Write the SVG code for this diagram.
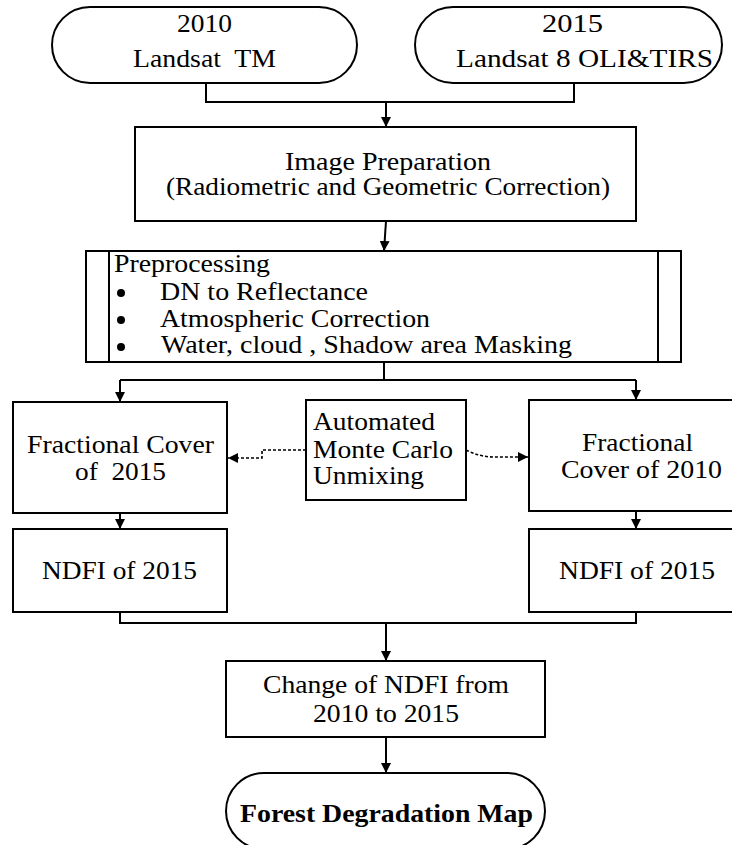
<svg xmlns="http://www.w3.org/2000/svg" width="732" height="845" viewBox="0 0 732 845">
<style>
.box{fill:#fff;stroke:#000;stroke-width:2}
.ln{fill:none;stroke:#000;stroke-width:2}
.dot{fill:none;stroke:#000;stroke-width:1.6;stroke-dasharray:3 2}
text{font-family:"Liberation Serif","Times New Roman",serif;font-size:25px;fill:#000;white-space:pre}
.b{font-weight:bold}
</style>
<defs>
<marker id="ah" viewBox="0 0 10 10" refX="10" refY="5" markerWidth="10" markerHeight="10" markerUnits="userSpaceOnUse" orient="auto">
<path d="M0,0 L10,5 L0,10 Z" fill="#000"/>
</marker>
<marker id="ahs" viewBox="0 0 10 10" refX="10" refY="5" markerWidth="10" markerHeight="10" markerUnits="userSpaceOnUse" orient="auto">
<path d="M0,0 L10,5 L0,10 Z" fill="#000"/>
</marker>
</defs>
<rect width="732" height="845" fill="#fff"/>
<g id="connectors">
<path class="ln" d="M206,83 V102 H574 V83"/>
<path class="ln" d="M386,102 V127" marker-end="url(#ah)"/>
<path class="ln" d="M386,221 L384,251" marker-end="url(#ah)"/>
<path class="ln" d="M384,362 V380 M120,380 H636"/>
<path class="ln" d="M120,380 V402" marker-end="url(#ah)"/>
<path class="ln" d="M636,380 V400" marker-end="url(#ah)"/>
<path class="dot" d="M306,450 H262 V458 H228" marker-end="url(#ahs)"/>
<path class="dot" d="M466,450 Q480,457 494,457 H528" marker-end="url(#ahs)"/>
<path class="ln" d="M120,513 V529" marker-end="url(#ah)"/>
<path class="ln" d="M636,511 V529" marker-end="url(#ah)"/>
<path class="ln" d="M120,612 V623 H636 V612"/>
<path class="ln" d="M386,623 V661" marker-end="url(#ah)"/>
<path class="ln" d="M386,737 V773" marker-end="url(#ah)"/>
</g>
<g id="n2010">
<rect class="box" x="52" y="7" width="305" height="76" rx="38" ry="38"/>
<text x="177" y="32" textLength="55" lengthAdjust="spacingAndGlyphs">2010</text>
<text x="133" y="67" textLength="143" lengthAdjust="spacingAndGlyphs">Landsat  TM</text>
</g>
<g id="n2015">
<rect class="box" x="415" y="7" width="307" height="76" rx="38" ry="38"/>
<text x="542" y="32" textLength="61" lengthAdjust="spacingAndGlyphs">2015</text>
<text x="456" y="67" textLength="257" lengthAdjust="spacingAndGlyphs">Landsat 8 OLI&amp;TIRS</text>
</g>
<g id="prep">
<rect class="box" x="135" y="127" width="501" height="94"/>
<text x="285" y="170" textLength="206" lengthAdjust="spacingAndGlyphs">Image Preparation</text>
<text x="166" y="195" textLength="444" lengthAdjust="spacingAndGlyphs">(Radiometric and Geometric Correction)</text>
</g>
<g id="preproc">
<rect class="box" x="86" y="251" width="595" height="111"/>
<line class="ln" x1="109" y1="251" x2="109" y2="362"/>
<line class="ln" x1="658" y1="251" x2="658" y2="362"/>
<text x="114" y="272" textLength="156" lengthAdjust="spacingAndGlyphs">Preprocessing</text>
<circle cx="121" cy="293" r="4"/>
<circle cx="121" cy="320" r="4"/>
<circle cx="121" cy="347" r="4"/>
<text x="160" y="300" textLength="208" lengthAdjust="spacingAndGlyphs">DN to Reflectance</text>
<text x="160" y="327" textLength="270" lengthAdjust="spacingAndGlyphs">Atmospheric Correction</text>
<text x="161" y="353" textLength="411" lengthAdjust="spacingAndGlyphs">Water, cloud , Shadow area Masking</text>
</g>
<g id="fc2015">
<rect class="box" x="13" y="402" width="214" height="111"/>
<text x="27" y="453" textLength="187" lengthAdjust="spacingAndGlyphs">Fractional Cover</text>
<text x="75" y="480" textLength="91" lengthAdjust="spacingAndGlyphs">of  2015</text>
</g>
<g id="mc">
<rect class="box" x="306" y="400" width="160" height="100"/>
<text x="313" y="430" textLength="122" lengthAdjust="spacingAndGlyphs">Automated</text>
<text x="313" y="458" textLength="140" lengthAdjust="spacingAndGlyphs">Monte Carlo</text>
<text x="313" y="484" textLength="111" lengthAdjust="spacingAndGlyphs">Unmixing</text>
</g>
<g id="fc2010">
<rect class="box" x="529" y="400" width="214" height="111"/>
<text x="582" y="451" textLength="111" lengthAdjust="spacingAndGlyphs">Fractional</text>
<text x="561" y="478" textLength="161" lengthAdjust="spacingAndGlyphs">Cover of 2010</text>
</g>
<g id="ndfiL">
<rect class="box" x="13" y="529" width="214" height="83"/>
<text x="42" y="579" textLength="155" lengthAdjust="spacingAndGlyphs">NDFI of 2015</text>
</g>
<g id="ndfiR">
<rect class="box" x="529" y="529" width="214" height="83"/>
<text x="559" y="579" textLength="156" lengthAdjust="spacingAndGlyphs">NDFI of 2015</text>
</g>
<g id="change">
<rect class="box" x="226" y="661" width="319" height="76"/>
<text x="263" y="693" textLength="246" lengthAdjust="spacingAndGlyphs">Change of NDFI from</text>
<text x="313" y="722" textLength="146" lengthAdjust="spacingAndGlyphs">2010 to 2015</text>
</g>
<g id="map">
<rect class="box" x="226" y="773" width="319" height="76" rx="38" ry="38"/>
<text class="b" x="240" y="822" textLength="293" lengthAdjust="spacingAndGlyphs">Forest Degradation Map</text>
</g>
</svg>
